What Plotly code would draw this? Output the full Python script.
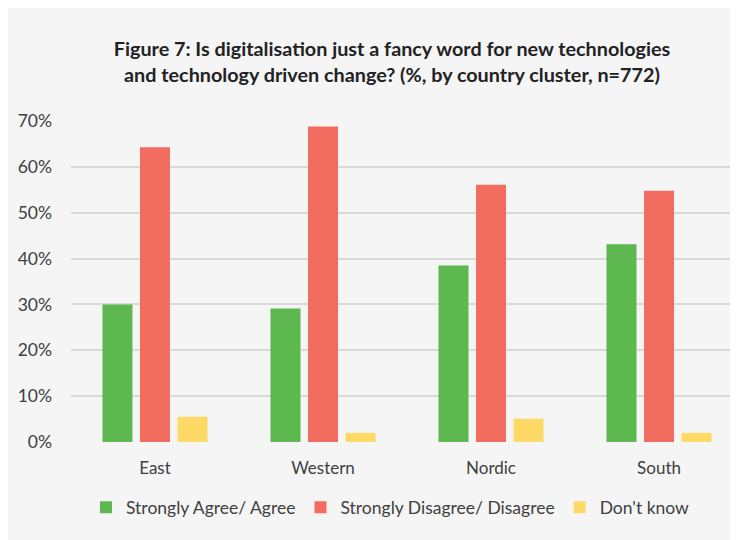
import plotly.graph_objects as go

categories = ["East", "Western", "Nordic", "South"]
agree = [0.30, 0.291, 0.385, 0.431]
disagree = [0.643, 0.688, 0.561, 0.548]
dont_know = [0.055, 0.02, 0.051, 0.02]
series_names = ["Strongly Agree/ Agree", "Strongly Disagree/ Disagree", "Don't know"]
colors = ["#5DB84F", "#F26D60", "#FFD966"]
tick_vals = [0, 0.1, 0.2, 0.3, 0.4, 0.5, 0.6, 0.7]

fig = go.Figure()
for name, vals, c in zip(series_names, [agree, disagree, dont_know], colors):
    fig.add_trace(go.Bar(x=categories, y=vals, name=name, marker=dict(color=c, line=dict(width=0))))

bg = "#F5F5F5"
fig.update_layout(
    width=730, height=532,
    paper_bgcolor=bg, plot_bgcolor=bg,
    margin=dict(l=63, r=0, t=113, b=98),
    barmode="group", bargap=0.33, bargroupgap=0.2,
    font=dict(family="Lato, Open Sans, sans-serif", color="#404040", size=16),
    title=dict(
        text="<b>Figure 7: Is digitalisation just a fancy word for new technologies<br>and technology driven change? (%, by country cluster, n=772)</b>",
        x=0.526, xanchor="center", y=0.91, yanchor="middle",
        font=dict(size=19.8, color="#222222"),
    ),
    xaxis=dict(range=[-0.5, 3.47], showgrid=False, zeroline=False, showline=False,
               ticks="", ticklabelstandoff=14, tickfont=dict(size=17, color="#404040")),
    yaxis=dict(range=[0, 0.7], tickvals=tick_vals, tickformat=".0%",
               showgrid=True, gridcolor="#D9D9D9", gridwidth=1.5, zeroline=False,
               showline=False, ticks="", ticklabelstandoff=18,
               tickfont=dict(size=17.5, color="#404040")),
    legend=dict(orientation="h", x=0.479, xanchor="center", y=-0.204, yanchor="middle",
                font=dict(size=17.5, color="#404040"), bgcolor="rgba(0,0,0,0)",
                itemwidth=30, tracegroupgap=0),
    showlegend=True,
)
fig.write_html("out.html")
